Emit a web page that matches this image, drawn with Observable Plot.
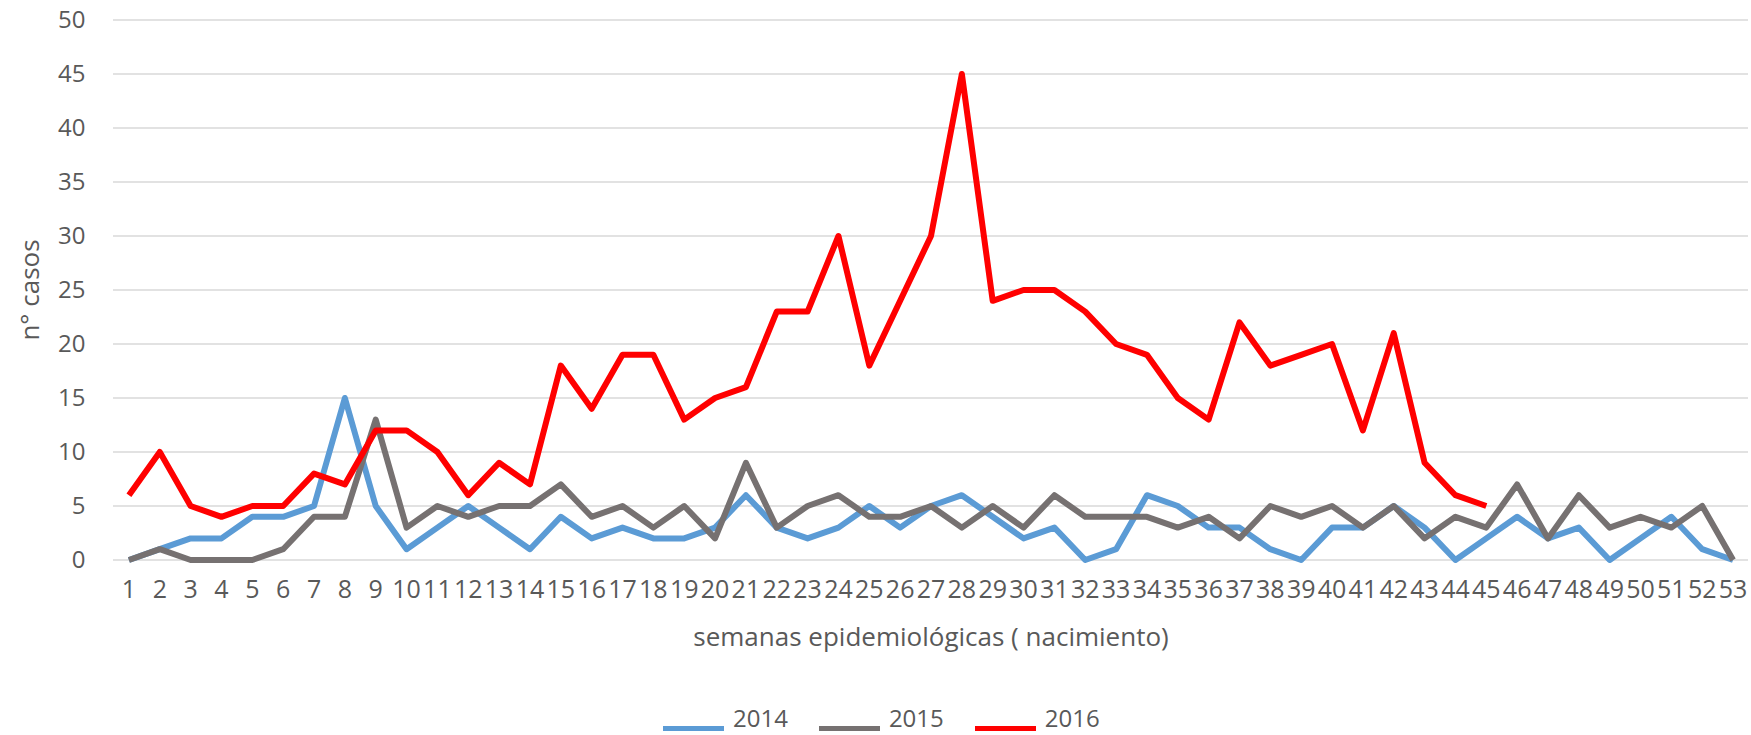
<!DOCTYPE html>
<html>
<head>
<meta charset="utf-8">
<script src="https://cdn.jsdelivr.net/npm/d3@7"></script>
<script src="https://cdn.jsdelivr.net/npm/@observablehq/plot@0.6"></script>
<style>
  html, body { margin: 0; padding: 0; background: #ffffff; }
  #wrap { position: relative; width: 1751px; height: 735px; overflow: hidden; font-family: "Open Sans", sans-serif; background: #fff; }
  #wrap svg { display: block; }
  #legend { position: absolute; left: 663px; top: 706px; display: flex; align-items: baseline; font-size: 24px; line-height: 24px; color: #595959; white-space: nowrap; }
  .item { display: inline-flex; align-items: baseline; margin-right: 31px; }
  .sw { display: inline-block; width: 61px; height: 5px; margin-right: 9px; position: relative; top: 4px; }
</style>
</head>
<body>
<div id="wrap"></div>
<script>
// ---- data ----
const weeks = [1,2,3,4,5,6,7,8,9,10,11,12,13,14,15,16,17,18,19,20,21,22,23,24,25,26,27,28,29,30,31,32,33,34,35,36,37,38,39,40,41,42,43,44,45,46,47,48,49,50,51,52,53];
const years = ["2014", "2015", "2016"];
const colors = ["#5B9BD5", "#767171", "#FF0000"];
const casos2014 = [0,1,2,2,4,4,5,15,5,1,3,5,3,1,4,2,3,2,2,3,6,3,2,3,5,3,5,6,4,2,3,0,1,6,5,3,3,1,0,3,3,5,3,0,2,4,2,3,0,2,4,1,0];
const casos2015 = [0,1,0,0,0,1,4,4,13,3,5,4,5,5,7,4,5,3,5,2,9,3,5,6,4,4,5,3,5,3,6,4,4,4,3,4,2,5,4,5,3,5,2,4,3,7,2,6,3,4,3,5,0];
const casos2016 = [6,10,5,4,5,5,8,7,12,12,10,6,9,7,18,14,19,19,13,15,16,23,23,30,18,24,30,45,24,25,25,23,20,19,15,13,22,18,19,20,12,21,9,6,5];
const yTicks = [0,5,10,15,20,25,30,35,40,45,50];
const xTitle = "semanas epidemiológicas ( nacimiento)";
const yTitle = "n° casos";

const seriesValues = [casos2014, casos2015, casos2016];
const data = [];
seriesValues.forEach((vals, s) => vals.forEach((v, i) => data.push({week: weeks[i], year: years[s], casos: v})));

const textColor = "#595959";

const chart = Plot.plot({
  width: 1751,
  height: 680,
  marginLeft: 113,
  marginRight: 3,
  marginTop: 19.5,
  marginBottom: 120.5,
  style: { fontFamily: "'Open Sans', sans-serif", background: "#ffffff", color: textColor },
  x: { type: "point", domain: weeks, padding: 0.5 },
  y: { domain: [0, 50] },
  color: { domain: years, range: colors },
  marks: [
    Plot.gridY(yTicks, { stroke: "#d9d9d9", strokeOpacity: 1, strokeWidth: 1.5 }),
    Plot.axisY(yTicks, { tickSize: 0, tickPadding: 28, fontSize: 24, fill: textColor, label: null }),
    Plot.axisY([], { label: yTitle, labelAnchor: "center", labelOffset: 93, labelArrow: "none", fontSize: 26, fill: textColor }),
    Plot.axisX(weeks, { tickSize: 0, tickPadding: 20.5, fontSize: 25, fill: textColor, label: null }),
    Plot.axisX([], { label: xTitle, labelAnchor: "center", labelOffset: 85.5, labelArrow: "none", fontSize: 26, fill: textColor }),
    Plot.lineY(data, { x: "week", y: "casos", z: "year", stroke: "year", strokeWidth: 6, strokeLinejoin: "round", strokeLinecap: "butt" })
  ]
});

const wrap = document.getElementById("wrap");
wrap.appendChild(chart);

const legend = document.createElement("div");
legend.id = "legend";
years.forEach((y, i) => {
  const item = document.createElement("span");
  item.className = "item";
  const sw = document.createElement("span");
  sw.className = "sw";
  sw.style.background = colors[i];
  const t = document.createElement("span");
  t.textContent = y;
  item.appendChild(sw);
  item.appendChild(t);
  legend.appendChild(item);
});
wrap.appendChild(legend);
</script>
</body>
</html>
